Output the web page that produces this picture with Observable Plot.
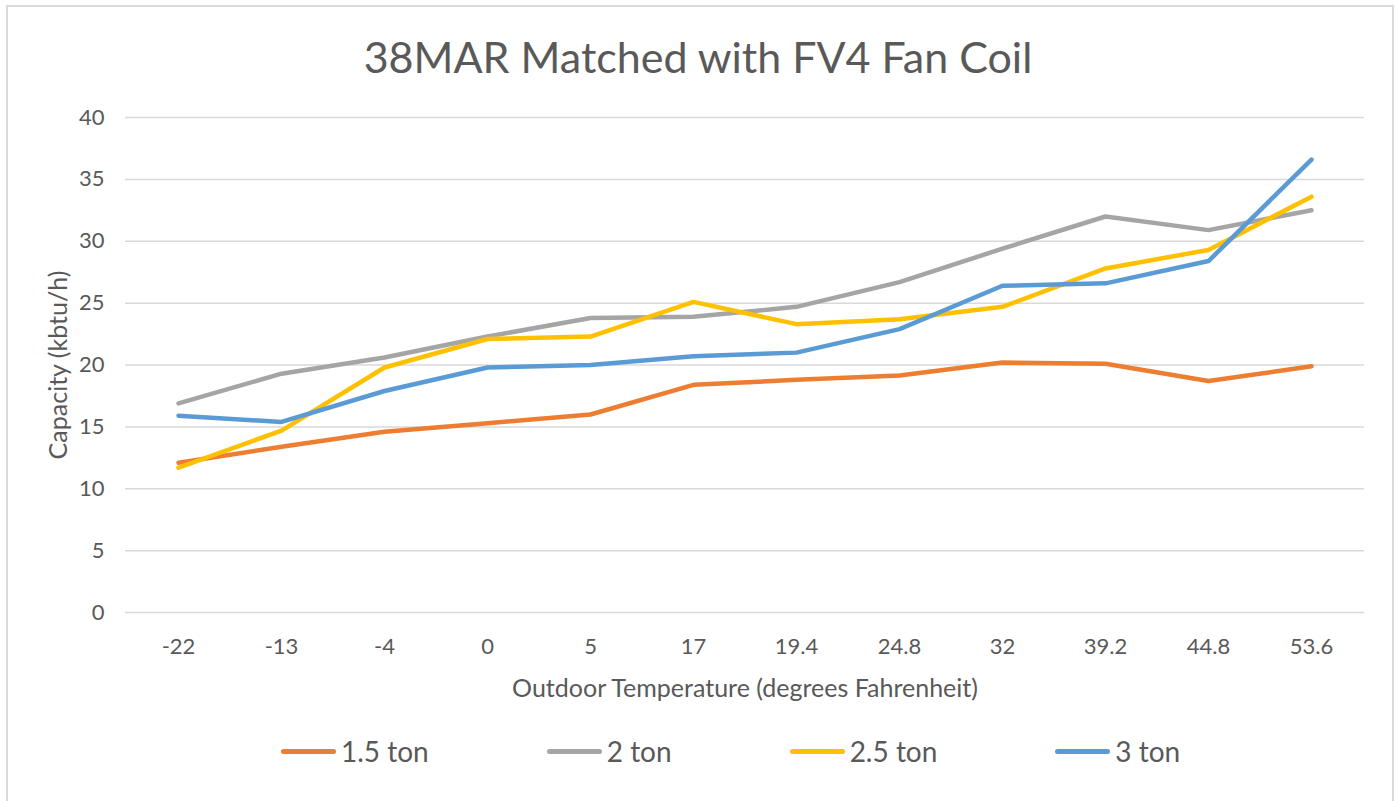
<!DOCTYPE html>
<html>
<head>
<meta charset="utf-8">
<script src="https://cdn.jsdelivr.net/npm/d3@7"></script>
<script src="https://cdn.jsdelivr.net/npm/@observablehq/plot@0.6"></script>
<style>
  html, body { margin: 0; padding: 0; background: #fff; }
  #wrap { position: relative; width: 1396px; height: 801px; overflow: hidden; font-family: Lato, "Open Sans", sans-serif; color: #595959; }
  #border { position: absolute; left: 6px; top: 5px; width: 1388px; height: 820px; border: 2px solid #d9d9d9; box-sizing: border-box; }
  #title { position: absolute; left: 0; width: 1396px; top: 32px; text-align: center; font-size: 43px; line-height: 50px; }
  #chart { position: absolute; left: 0; top: 0; }
  #legend { position: absolute; top: 733px; left: 281px; display: flex; align-items: center; font-size: 28px; line-height: 36px; }
  .item { display: flex; align-items: center; margin-right: 118px; }
  .swatch { width: 55px; height: 5px; border-radius: 3px; margin-right: 5px; }
</style>
</head>
<body>
<div id="wrap">
  <div id="border"></div>
  <div id="chart"></div>
  <div id="title"></div>
  <div id="legend"></div>
</div>
<script>
const title = "38MAR Matched with FV4 Fan Coil";
const xLabel = "Outdoor Temperature (degrees Fahrenheit)";
const yLabel = "Capacity (kbtu/h)";
const temps = ["-22", "-13", "-4", "0", "5", "17", "19.4", "24.8", "32", "39.2", "44.8", "53.6"];
const yTicks = [0, 5, 10, 15, 20, 25, 30, 35, 40];
const seriesNames = ["1.5 ton", "2 ton", "2.5 ton", "3 ton"];
const seriesColors = ["#ED7D31", "#A5A5A5", "#FFC000", "#5B9BD5"];
const ton15 = [12.1, 13.4, 14.6, 15.3, 16.0, 18.4, 18.8, 19.15, 20.2, 20.1, 18.7, 19.9];
const ton2  = [16.9, 19.3, 20.6, 22.3, 23.8, 23.9, 24.7, 26.7, 29.4, 32.0, 30.9, 32.5];
const ton25 = [11.7, 14.7, 19.8, 22.1, 22.3, 25.1, 23.3, 23.7, 24.7, 27.8, 29.3, 33.6];
const ton3  = [15.9, 15.4, 17.9, 19.8, 20.0, 20.7, 21.0, 22.9, 26.4, 26.6, 28.4, 36.6];

const seriesValues = [ton15, ton2, ton25, ton3];
const data = [];
seriesNames.forEach((s, i) => {
  temps.forEach((t, j) => data.push({series: s, temp: t, value: seriesValues[i][j]}));
});

document.getElementById("title").textContent = title;

const chart = Plot.plot({
  width: 1396,
  height: 801,
  marginTop: 117,
  marginBottom: 189,
  marginLeft: 125,
  marginRight: 32,
  style: {fontFamily: "Lato, 'Open Sans', sans-serif", fontSize: "22px", color: "#595959", background: "transparent"},
  x: {type: "point", domain: temps, padding: 0.5},
  y: {domain: [0, 40]},
  color: {domain: seriesNames, range: seriesColors},
  marks: [
    Plot.gridY(yTicks, {stroke: "#d9d9d9", strokeOpacity: 1, strokeWidth: 1.5}),
    Plot.axisY(yTicks, {tickSize: 0, tickPadding: 21, label: null, fontSize: 22, fill: "#595959"}),
    Plot.axisX(temps, {tickSize: 0, tickPadding: 26, label: null, fontSize: 22, fill: "#595959"}),
    Plot.text([yLabel], {frameAnchor: "left", textAnchor: "middle", lineAnchor: "middle", dx: -67, rotate: -90, fontSize: 25, fill: "#595959"}),
    Plot.text([xLabel], {frameAnchor: "bottom", textAnchor: "middle", lineAnchor: "middle", dy: 76, fontSize: 25, fill: "#595959"}),
    Plot.line(data, {x: "temp", y: "value", z: "series", stroke: "series", strokeWidth: 4.5, strokeLinecap: "round", strokeLinejoin: "round"})
  ]
});
document.getElementById("chart").appendChild(chart);

const legend = document.getElementById("legend");
seriesNames.forEach((s, i) => {
  const item = document.createElement("div");
  item.className = "item";
  const sw = document.createElement("div");
  sw.className = "swatch";
  sw.style.background = seriesColors[i];
  const label = document.createElement("span");
  label.textContent = s;
  item.appendChild(sw);
  item.appendChild(label);
  legend.appendChild(item);
});
</script>
</body>
</html>
